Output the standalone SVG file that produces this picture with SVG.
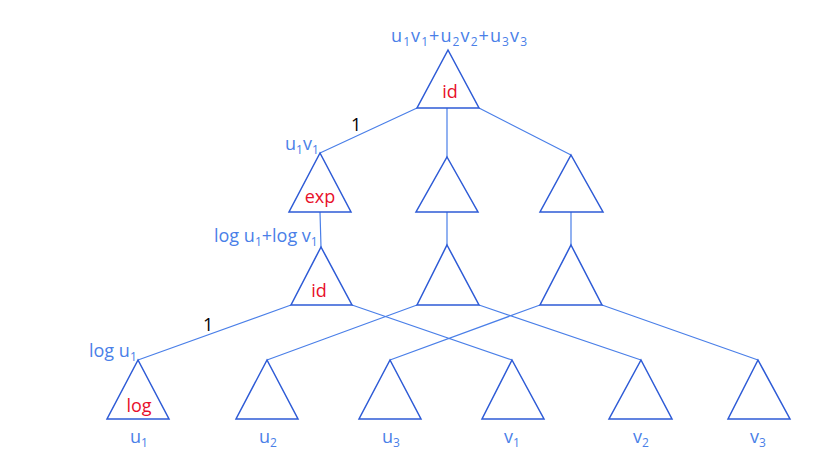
<svg xmlns="http://www.w3.org/2000/svg" width="831" height="467" viewBox="0 0 831 467">
<style>
.t{fill:none;stroke:#2e5bd6;stroke-width:1.5}
.c{stroke:#4a7fe8;stroke-width:1.2;fill:none}
text{font-family:"Open Sans","Liberation Sans",sans-serif;font-size:18px}
.b{fill:#4a7fe8}
.r{fill:#e8102a;text-anchor:middle}
.k{fill:#000}
.s{font-size:12px}
</style>
<rect width="831" height="467" fill="#fff"/>
<g id="connectors">
<path class="c" d="M417 108L320 153M447 108L447 157M479 108L571 155M320 212L321 247M447 212L447 245M571 212L571 245M291 305L138 360M352 305L512 360M417 305L267 360M479 305L641 360M540 305L390 360M602 305L758 360"/>
</g>
<g id="root"><polygon class="t" points="448,50 479,108 417,108"/><text class="r" x="450" y="98">id</text></g>
<g id="exp"><polygon class="t" points="320,153 351,212 289,212"/><text class="r" x="320" y="203">exp</text></g>
<g id="m2"><polygon class="t" points="447,157 478,212 416,212"/></g>
<g id="r2"><polygon class="t" points="571,155 603,212 540,212"/></g>
<g id="id3"><polygon class="t" points="321,247 352,305 291,305"/><text class="r" x="319" y="297">id</text></g>
<g id="m3"><polygon class="t" points="447,245 479,305 417,305"/></g>
<g id="r3"><polygon class="t" points="571,245 602,305 540,305"/></g>
<g id="u1"><polygon class="t" points="138,360 169,419 107,419"/><text class="r" x="139" y="412">log</text></g>
<g id="u2"><polygon class="t" points="267,360 298,419 236,419"/></g>
<g id="u3"><polygon class="t" points="390,360 421,419 359,419"/></g>
<g id="v1"><polygon class="t" points="512,360 544,419 482,419"/></g>
<g id="v2"><polygon class="t" points="641,360 672,419 609,419"/></g>
<g id="v3"><polygon class="t" points="758,360 790,419 728,419"/></g>
<g id="labels">
<text class="b" x="391" y="42" textLength="136">u<tspan class="s" dy="4">1</tspan><tspan dy="-4">v</tspan><tspan class="s" dy="4">1</tspan><tspan dy="-4">+u</tspan><tspan class="s" dy="4">2</tspan><tspan dy="-4">v</tspan><tspan class="s" dy="4">2</tspan><tspan dy="-4">+u</tspan><tspan class="s" dy="4">3</tspan><tspan dy="-4">v</tspan><tspan class="s" dy="4">3</tspan></text>
<text class="k" x="351" y="131">1</text>
<text class="b" x="285" y="150">u<tspan class="s" dy="4">1</tspan><tspan dy="-4">v</tspan><tspan class="s" dy="4">1</tspan></text>
<text class="b" x="214" y="242">log u<tspan class="s" dy="4">1</tspan><tspan dy="-4">+log v</tspan><tspan class="s" dy="4">1</tspan></text>
<text class="k" x="203" y="331">1</text>
<text class="b" x="89" y="357">log u<tspan class="s" dy="4">1</tspan></text>
<text class="b" x="130" y="443">u<tspan class="s" dy="4">1</tspan></text>
<text class="b" x="259" y="443">u<tspan class="s" dy="4">2</tspan></text>
<text class="b" x="382" y="443">u<tspan class="s" dy="4">3</tspan></text>
<text class="b" x="504" y="443">v<tspan class="s" dy="4">1</tspan></text>
<text class="b" x="633" y="443">v<tspan class="s" dy="4">2</tspan></text>
<text class="b" x="750" y="443">v<tspan class="s" dy="4">3</tspan></text>
</g>
</svg>
